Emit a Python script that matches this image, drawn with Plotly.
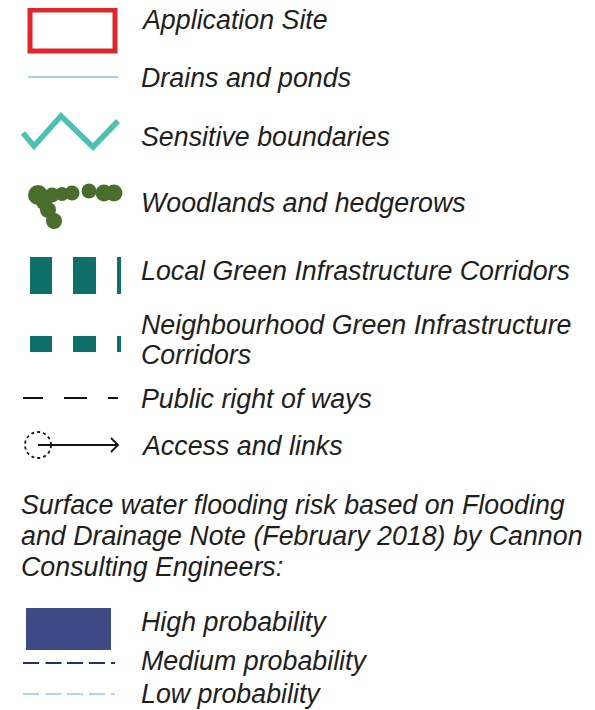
import plotly.graph_objects as go

# ---- data (legend entries) ----
labels = [
    "Application Site",
    "Drains and ponds",
    "Sensitive boundaries",
    "Woodlands and hedgerows",
    "Local Green Infrastructure Corridors",
    "Neighbourhood Green Infrastructure",
    "Corridors",
    "Public right of ways",
    "Access and links",
]
label_y = [20, 78, 137, 203, 271, 325, 355, 399, 446]
note_lines = [
    "Surface water flooding risk based on Flooding",
    "and Drainage Note (February 2018) by Cannon",
    "Consulting Engineers:",
]
note_y = [505, 536, 567]
flood_labels = ["High probability", "Medium probability", "Low probability"]
flood_y = [622, 661, 694]

zigzag_x = [23, 34, 61, 93, 118]
zigzag_y = [133, 146, 116, 147, 121]
wood_x = [38, 52, 62, 72, 89, 104, 114, 44, 48, 54]
wood_y = [195, 195, 194, 193, 191, 193, 193, 202, 210, 221]
wood_d = [20, 15, 14, 15, 15, 17, 17, 16, 16, 16]

W, H = 595, 710
OFF = 8  # default page body margin
FONT = "Liberation Sans, Arial, sans-serif"
TEXT_COL = "#1e1e1e"
FS = 26.8

fig = go.Figure()
shapes = []
ann = []

# Application site: red rectangle
shapes.append(dict(type="rect", x0=30, y0=10, x1=115, y1=51,
                   line=dict(color="#e0262a", width=5), fillcolor="white"))
# Drains
shapes.append(dict(type="line", x0=28, y0=77, x1=118, y1=77,
                   line=dict(color="#9fd6ec", width=2)))
# Zigzag
fig.add_trace(go.Scatter(x=zigzag_x, y=zigzag_y, mode="lines",
                         line=dict(color="#4cc0b3", width=5.5),
                         hoverinfo="skip", showlegend=False))
# Woodland
fig.add_trace(go.Scatter(x=wood_x, y=wood_y, mode="markers",
                         marker=dict(color="#4a6d2e", size=wood_d, opacity=1,
                                     line=dict(width=0)),
                         hoverinfo="skip", showlegend=False))
# Local GI corridors
for x0, x1 in [(30, 52), (73, 96), (117, 121)]:
    shapes.append(dict(type="rect", x0=x0, y0=257, x1=x1, y1=294,
                       line=dict(width=0), fillcolor="#0f6f69"))
# Neighbourhood GI corridors
for x0, x1 in [(30, 52), (73, 96), (117, 121)]:
    shapes.append(dict(type="rect", x0=x0, y0=336, x1=x1, y1=352,
                       line=dict(width=0), fillcolor="#0f6f69"))
# Public right of ways
for x0, x1 in [(23, 43), (64, 87), (108, 118)]:
    shapes.append(dict(type="line", x0=x0, y0=398, x1=x1, y1=398,
                       line=dict(color="#111111", width=2)))
# Access and links
shapes.append(dict(type="circle", x0=25, y0=432, x1=51, y1=458,
                   line=dict(color="#111111", width=1.8, dash="dot")))
shapes.append(dict(type="line", x0=38, y0=445, x1=118, y1=445,
                   line=dict(color="#111111", width=1.8)))
shapes.append(dict(type="path", path="M 111 438 L 118 445 L 111 452",
                   line=dict(color="#111111", width=1.8)))
# High probability
shapes.append(dict(type="rect", x0=26, y0=608, x1=111, y1=650,
                   line=dict(width=0), fillcolor="#3e4a86"))
# Medium & Low dashes
for y, col in [(663, "#223170"), (694, "#a9d9ee")]:
    for x0 in [23, 45.5, 67, 89]:
        shapes.append(dict(type="line", x0=x0, y0=y, x1=x0 + 16, y1=y,
                           line=dict(color=col, width=2)))
    shapes.append(dict(type="line", x0=111, y0=y, x1=115, y1=y,
                       line=dict(color=col, width=2)))

def add_text(t, x, y):
    ann.append(dict(x=x, y=y, text=t, xanchor="left", yanchor="middle",
                    showarrow=False, align="left", borderpad=0,
                    font=dict(family=FONT, size=FS, color=TEXT_COL, style="italic")))

for t, y in zip(labels, label_y):
    add_text(t, 139.5, y)
for t, y in zip(note_lines, note_y):
    add_text(t, 19.5, y)
for t, y in zip(flood_labels, flood_y):
    add_text(t, 139.5, y)

fig.update_layout(
    width=W, height=H, margin=dict(l=0, r=0, t=0, b=0),
    paper_bgcolor="white", plot_bgcolor="white",
    xaxis=dict(range=[OFF, W + OFF], visible=False, fixedrange=True),
    yaxis=dict(range=[H + OFF, OFF], visible=False, fixedrange=True),
    shapes=shapes, annotations=ann, showlegend=False,
)
fig.write_html("out.html")
